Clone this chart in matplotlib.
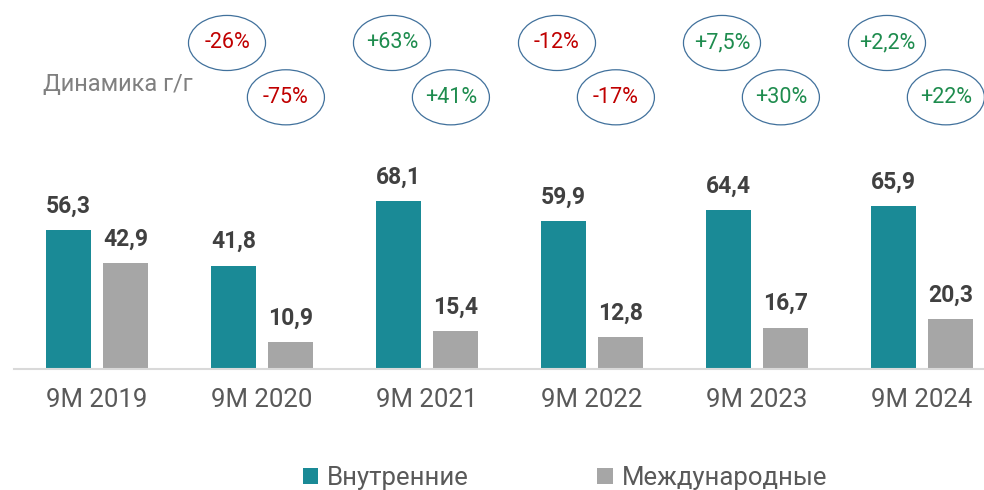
import matplotlib
matplotlib.use("Agg")
import matplotlib.pyplot as plt
from matplotlib.patches import Ellipse, Patch

plt.rcParams["font.family"] = ["Roboto", "DejaVu Sans"]

years = ["9M 2019", "9M 2020", "9M 2021", "9M 2022", "9M 2023", "9M 2024"]
domestic = [56.3, 41.8, 68.1, 59.9, 64.4, 65.9]
international = [42.9, 10.9, 15.4, 12.8, 16.7, 20.3]
dom_growth = ["-26%", "+63%", "-12%", "+7,5%", "+2,2%"]
int_growth = ["-75%", "+41%", "-17%", "+30%", "+22%"]

TEAL = "#1A8A96"
GRAY = "#A6A6A6"
RED = "#C00000"
GREEN = "#1E8C4E"
EDGE = "#41719C"

fig = plt.figure(figsize=(9.84, 4.9), dpi=100)
ax = fig.add_axes([14 / 984, 121 / 490, 970 / 984, 369 / 490])

x = list(range(len(years)))
off = 0.173
w = 0.268
ax.bar([i - off for i in x], domestic, width=w, color=TEAL)
ax.bar([i + off for i in x], international, width=w, color=GRAY)

def fmt(v):
    return f"{v:.1f}".replace(".", ",")

for i in x:
    for xv, v in ((i - off, domestic[i]), (i + off, international[i])):
        ax.annotate(fmt(v), (xv, v), xytext=(0, 9), textcoords="offset points",
                    ha="center", va="bottom", fontsize=16.5, fontweight="bold",
                    color="#404040")

# growth ellipses
for j in range(len(dom_growth)):
    g = j + 1
    for cx, cy, txt in ((g - 0.212, 132, dom_growth[j]), (g + 0.145, 110, int_growth[j])):
        ax.add_patch(Ellipse((cx, cy), 0.467, 22.3, facecolor="white",
                             edgecolor=EDGE, lw=0.9, clip_on=False))
        ax.text(cx, cy, txt, ha="center", va="center", fontsize=15.5,
                color=RED if txt.startswith("-") else GREEN)

ax.text(-0.33, 115, "Динамика г/г", ha="left", va="center", fontsize=17,
        color="#808080")

ax.set_xlim(-0.503, 5.376)
ax.set_ylim(0, 149.4)
ax.set_xticks(x)
ax.set_xticklabels(years, fontsize=18.5, color="#595959")
ax.tick_params(axis="x", length=0, pad=14)
ax.set_yticks([])
for s in ("top", "right", "left"):
    ax.spines[s].set_visible(False)
ax.spines["bottom"].set_color("#D9D9D9")
ax.spines["bottom"].set_linewidth(1.5)

handles = [Patch(facecolor=TEAL, label="Внутренние"),
           Patch(facecolor=GRAY, label="Международные")]
leg = fig.legend(handles=handles, loc="center", bbox_to_anchor=(565 / 984, 12 / 490),
                 ncol=2, frameon=False, fontsize=18.5, handlelength=0.6,
                 handleheight=0.6, handletextpad=0.35, columnspacing=5)
for t in leg.get_texts():
    t.set_color("#595959")

fig.savefig("out.png", dpi=100)
